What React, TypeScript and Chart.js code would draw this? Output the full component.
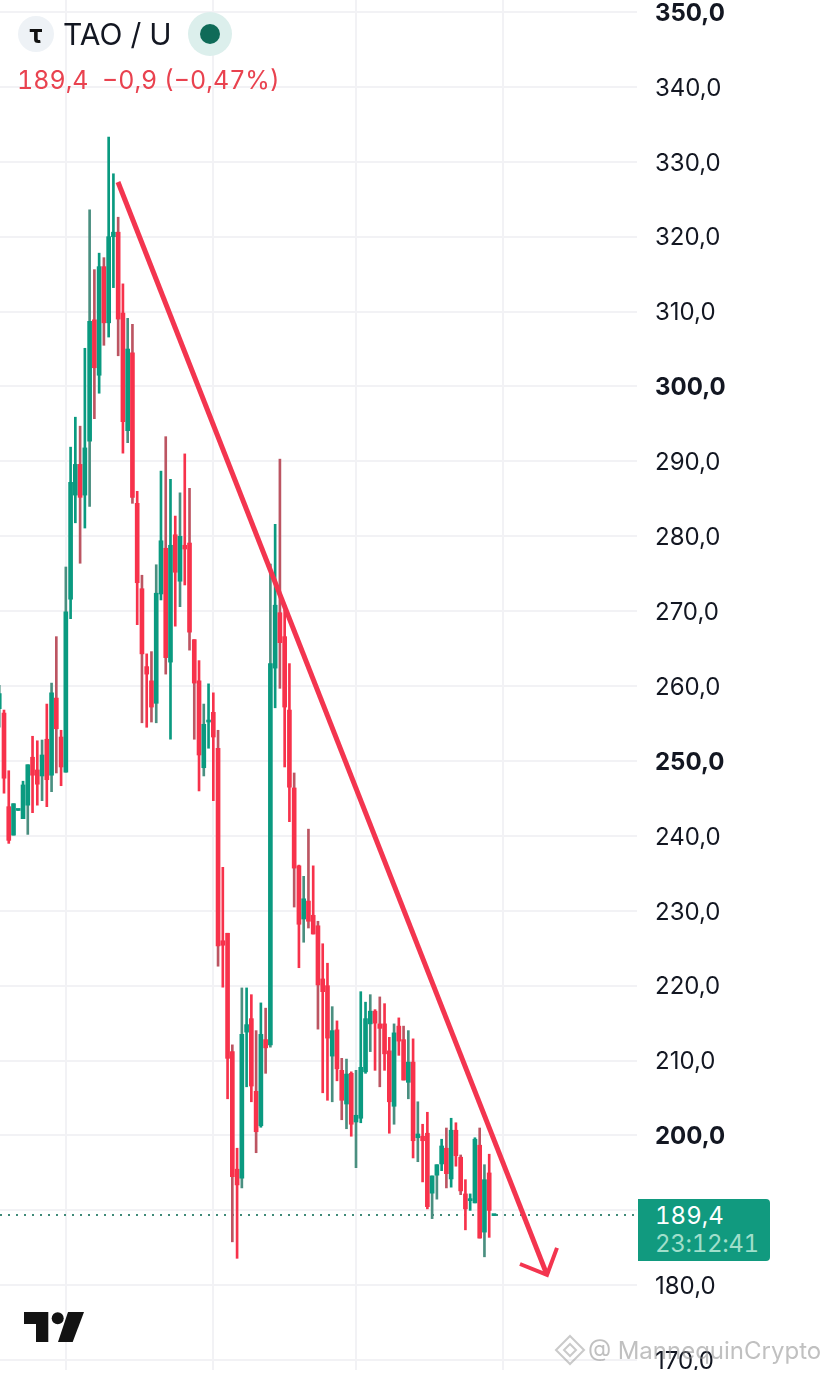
import React, { useEffect, useRef } from "react";
import { Chart, registerables } from "chart.js";

Chart.register(...registerables);

const opens = [257,
  256.4,243.9,240.1,243.4,242.3,244.1,250.5,248.8,248.0,252.9,
  248.1,258.4,253.2,248.5,271.6,285.5,289.6,285.5,292.7,308.9,
  301.5,316.0,308.5,320.0,320.6,309.8,294.1,304.5,284.4,273.0,
  262.6,260.7,257.7,272.3,278.4,263.2,280.2,274.0,278.8,279.1,
  266.2,260.7,249.1,255.2,256.5,251.7,226.0,227.0,211.2,195.5,
  194.3,213.8,215.6,205.9,201.3,212.8,212.1,262.4,269.8,266.6,
  256.8,246.4,236.0,228.9,231.3,229.4,228.0,220.9,220.0,210.6,
  214.1,208.7,204.2,208.3,201.8,202.3,208.5,214.9,216.6,214.9,
  214.9,211.3,203.9,214.6,212.8,207.1,209.8,199.7,199.9,200.3,
  192.3,194.7,196.2,198.3,194.2,200.7,197.1,192.2,191.3,191.0,
  198.7,187.1,195.0,189.3];

const closes = [259,
  247.7,239.4,244.3,243.5,246.8,249.5,248.1,246.9,250.8,247.5,
  259.1,254.3,249.2,269.9,287.2,289.6,285.2,291.8,308.7,302.5,
  316.0,308.5,320.0,320.6,309.0,295.3,305.0,285.2,273.8,264.3,
  261.6,257.2,272.4,279.4,263.8,278.8,275.2,280.0,278.3,267.2,
  260.4,250.8,254.9,255.3,253.2,225.3,225.4,210.3,194.5,193.4,
  213.5,214.8,206.6,200.5,213.5,211.7,263.0,270.8,265.8,257.2,
  246.5,235.7,228.2,231.6,228.6,226.9,220.1,219.2,213.0,214.0,
  208.9,204.7,208.2,201.5,202.7,209.1,215.6,216.6,215.0,214.3,
  210.9,204.5,213.7,212.6,207.4,209.8,199.3,200.2,199.3,190.5,
  194.6,196.1,198.6,194.9,200.7,197.3,192.6,190.2,191.4,199.5,
  186.3,194.1,190.0,189.4];

const highs = [260.1,
  256.8,248.7,244.3,243.5,247.3,249.5,253.3,252.7,252.8,257.6,
  260.4,266.6,254.1,275.9,291.9,295.9,294.7,305.1,323.6,315.6,
  317.8,317.2,333.3,328.4,322.6,313.7,309.1,308.3,286.0,274.8,
  264.3,264.6,276.2,288.7,293.3,287.6,282.7,285.8,291.0,286.4,
  266.2,263.4,257.6,260.3,259.1,254.1,235.8,227.0,212.1,198.3,
  219.7,219.7,218.8,214.0,217.7,217.0,276.3,281.6,290.3,270.2,
  263.0,248.4,236.1,234.6,240.9,236.0,228.6,225.6,223.0,217.2,
  215.3,210.3,210.2,208.5,208.7,219.2,217.8,218.8,216.8,218.5,
  217.6,213.1,214.9,215.7,214.6,214.0,212.9,204.5,201.5,203.1,
  194.6,196.1,199.5,201.0,202.3,201.7,197.4,194.1,192.2,199.7,
  201.0,196.1,197.5,189.4];

const lows = [254.5,
  245.7,239.0,240.1,243.4,242.3,240.2,243.1,244.1,244.7,243.9,
  245.9,248.4,246.7,248.5,269.0,281.8,276.4,281.1,284.0,295.7,
  299.1,305.5,306.6,313.2,304.1,291.1,292.5,284.4,268.2,255.1,
  254.5,255.2,255.1,271.5,261.6,252.9,268.0,270.6,273.5,264.8,
  252.9,246.0,248.0,251.7,244.7,222.6,219.8,204.9,185.8,183.6,
  193.0,206.5,204.5,197.7,201.1,208.3,211.8,257.1,259.7,249.2,
  241.9,230.5,222.4,225.8,227.7,226.9,214.2,205.7,204.7,204.5,
  207.3,202.1,200.9,199.9,195.7,201.7,208.3,211.2,208.7,206.5,
  208.7,200.3,201.5,210.7,207.4,204.9,197.0,196.5,193.8,190.2,
  188.9,191.5,195.3,193.0,193.1,195.9,192.1,187.4,190.0,191.0,
  186.3,183.8,186.4,189.3];

const firstIndex = -1;
const mutedWicks = [-1,2,5,8,10,11,13,16,18,19,21,24,26,27,29,31,32,34,37,39,40,42,45,48,50,53,55,56,58,61,63,64,66,69,71,72,74,77,79,82,84,85,87,90,91,93,96,100,101];
const monthTicks = [13, 44, 74, 105];
const priceTicks = [170,180,190,200,210,220,230,240,250,260,270,280,290,300,310,320,330,340,350];
const hiddenTickLabels = [190];
const boldTicks = [350, 300, 250, 200];
const lastPrice = 189.4;
const trendX = [23.96, 114.15];
const trendY = [327.3, 181.4];
const arrowX = [108.47, 114.15, 116.25];
const arrowY = [182.84, 181.4, 185.0];
const xRange = [-0.841, 133.07];
const yRange = [168.69, 351.6];

const UP = "#0A9A80";
const DOWN = "#F7324B";
const UP_MUTED = "#4A8F80";
const DOWN_MUTED = "#BC5562";
const FONT = "Inter, 'Noto Sans', sans-serif";

const abs = (s: React.CSSProperties): React.CSSProperties => ({
  position: "absolute",
  whiteSpace: "pre",
  fontVariantNumeric: "tabular-nums",
  ...s,
});

const nudgeLabels = {
  id: "nudgeLabels",
  beforeDraw(chart: any) {
    chart.scales.y.getLabelItems().forEach((item: any) => {
      item.textOffset += 1.5;
    });
  },
};

export default function App() {
  const ref = useRef<HTMLCanvasElement | null>(null);

  useEffect(() => {
    document.body.style.margin = "0";
    document.body.style.background = "#fff";
    const xs = opens.map((_, k) => k + firstIndex);
    const isUp = (k: number) => closes[k] >= opens[k];
    const chart = new Chart(ref.current as HTMLCanvasElement, {
      plugins: [nudgeLabels],
      data: {
        datasets: [
          {
            type: "line",
            order: 0,
            data: trendX.map((x, k) => ({ x, y: trendY[k] })),
            borderColor: "#F3354F",
            borderWidth: 5,
            pointRadius: 0,
            borderCapStyle: "butt",
          },
          {
            type: "line",
            order: 0,
            data: arrowX.map((x, k) => ({ x, y: arrowY[k] })),
            borderColor: "#F3354F",
            borderWidth: 4,
            pointRadius: 0,
            borderJoinStyle: "miter",
          },
          {
            type: "bar",
            order: 1,
            data: xs.map((x, k) => ({ x, y: [opens[k], closes[k]] })),
            backgroundColor: xs.map((_, k) => (isUp(k) ? UP : DOWN)),
            barThickness: 4,
            minBarLength: 2,
            grouped: false,
          },
          {
            type: "bar",
            order: 2,
            data: xs.map((x, k) => ({ x, y: [lows[k], highs[k]] })),
            backgroundColor: xs.map((x, k) =>
              mutedWicks.includes(x) ? (isUp(k) ? UP_MUTED : DOWN_MUTED) : isUp(k) ? UP : DOWN
            ),
            barThickness: 2,
            grouped: false,
          },
          {
            type: "line",
            order: 3,
            data: xRange.map((x) => ({ x, y: lastPrice })),
            borderColor: "#3F8A78",
            borderWidth: 2,
            borderDash: [2, 6],
            pointRadius: 0,
          },
        ],
      } as any,
      options: {
        animation: false,
        responsive: false,
        maintainAspectRatio: false,
        layout: { padding: 0 },
        plugins: { legend: { display: false }, tooltip: { enabled: false } },
        scales: {
          x: {
            type: "linear",
            offset: false,
            min: xRange[0],
            max: xRange[1],
            afterBuildTicks: (s: any) => {
              s.ticks = monthTicks.map((value) => ({ value }));
            },
            afterFit: (s: any) => {
              s.height = 0;
              s.paddingLeft = 0;
              s.paddingRight = 0;
              s.paddingTop = 0;
              s.paddingBottom = 0;
            },
            ticks: { display: false, autoSkip: false },
            grid: { color: "#F2F2F5", lineWidth: 2, drawTicks: false, offset: false },
            border: { display: false },
          },
          y: {
            type: "linear",
            position: "right",
            min: yRange[0],
            max: yRange[1],
            afterBuildTicks: (s: any) => {
              s.ticks = priceTicks.map((value) => ({ value }));
            },
            afterFit: (s: any) => {
              s.width = 191;
              s.paddingTop = 0;
              s.paddingBottom = 0;
              s.paddingLeft = 0;
              s.paddingRight = 0;
            },
            ticks: {
              autoSkip: false,
              padding: 18,
              color: "#131722",
              font: (ctx: any) => ({
                family: FONT,
                size: 24,
                weight: boldTicks.includes(ctx.tick?.value) ? "700" : "400",
              }),
              callback: (v: any) =>
                hiddenTickLabels.includes(Number(v)) ? "" : Number(v).toFixed(1).replace(".", ","),
            },
            grid: { color: "#F2F2F5", lineWidth: 2, drawTicks: false },
            border: { display: false },
          },
        },
      } as any,
    });
    return () => chart.destroy();
  }, []);

  return (
    <div style={{ position: "relative", width: 828, height: 1375, overflow: "hidden", fontFamily: FONT, background: "#fff" }}>
      <canvas ref={ref} width={828} height={1370} style={{ position: "absolute", left: 0, top: 0, width: 828, height: 1370 }} />

      <div style={abs({ left: 18, top: 16, width: 36, height: 36, borderRadius: 18, background: "#EEF2F6", color: "#111", fontSize: 25, fontWeight: 700, lineHeight: "36px", textAlign: "center" })}>τ</div>
      <div style={abs({ left: 63, top: 15, fontSize: 30, lineHeight: "38px", color: "#131722" })}>TAO / U</div>
      <div style={abs({ left: 188, top: 12, width: 44, height: 44, borderRadius: 22, background: "#DCEFEC" })} />
      <div style={abs({ left: 200, top: 24, width: 20, height: 20, borderRadius: 10, background: "#0F6B58" })} />
      <div style={abs({ left: 17, top: 65, fontSize: 25, lineHeight: "30px", color: "#E9424F" })}>189,4  −0,9 (−0,47%)</div>

      <div style={abs({ left: 638, top: 1199, width: 132, height: 62, background: "#119A7F", borderRadius: "0 4px 4px 0" })} />
      <div style={abs({ left: 655, top: 1201, fontSize: 24, lineHeight: "30px", color: "#fff" })}>189,4</div>
      <div style={abs({ left: 655, top: 1229, fontSize: 24, lineHeight: "30px", letterSpacing: -0.3, color: "#A0DFCB" })}>23:12:41</div>

      <svg style={{ position: "absolute", left: 0, top: 0 }} width={828} height={1375}>
        <path d="M24 1312H48.3V1342H36V1324H24Z" fill="#131313" />
        <circle cx={57.7} cy={1318.3} r={6} fill="#131313" />
        <path d="M68 1312H84L72.7 1342H58Z" fill="#131313" />
        <g fill="none" stroke="rgba(150,150,150,0.5)" strokeWidth={2}>
          <path d="M570 1336L584 1350L570 1364L556 1350Z" />
          <path d="M570 1344L576 1350L570 1356L564 1350Z" />
        </g>
      </svg>
      <div style={abs({ left: 588, top: 1335, fontSize: 24, lineHeight: "32px", color: "rgba(140,140,140,0.55)" })}>@ MannequinCrypto</div>
    </div>
  );
}
